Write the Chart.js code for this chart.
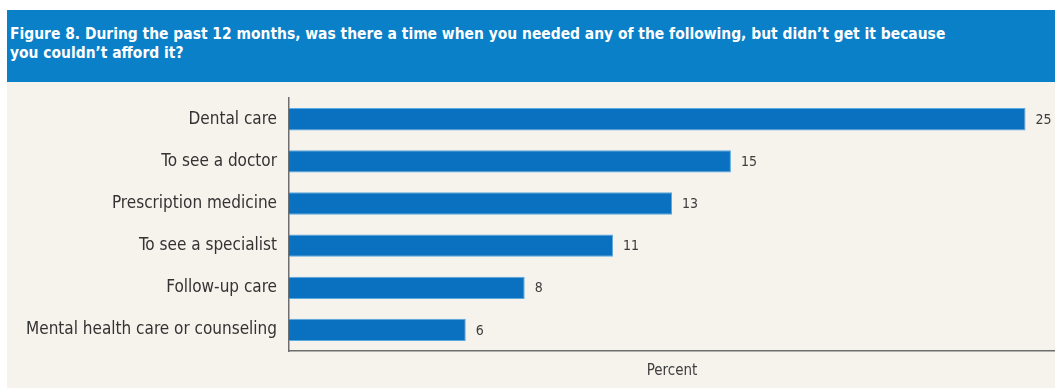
<!DOCTYPE html>
<html>
<head>
<meta charset="utf-8">
<script src="https://cdn.jsdelivr.net/npm/chart.js@4"></script>
<style>
  html, body { margin: 0; padding: 0; background: #ffffff; }
  #wrap { position: absolute; left: 7px; top: 10px; width: 1048px; height: 378px; background: #f6f3ed; }
  #header {
    height: 72px; background: #0a80c8; color: #ffffff;
    font-family: "DejaVu Sans Condensed", "Liberation Sans Narrow", sans-serif;
    font-weight: bold; font-size: 16.5px; line-height: 19px;
    padding: 14px 0 0 3px; box-sizing: border-box; white-space: nowrap;
  }
  #header span { display: inline-block; transform: scaleX(0.935); transform-origin: left top; }
  #box { position: absolute; left: 0; top: 66px; width: 1048px; height: 308px; }
</style>
</head>
<body>
<div id="wrap">
  <div id="header"><span>Figure 8. During the past 12 months, was there a time when you needed any of the following, but didn’t get it because<br>you couldn’t afford it?</span></div>
  <div id="box"><canvas id="careChart"></canvas></div>
</div>
<script>
const careLabels = ['Dental care', 'To see a doctor', 'Prescription medicine', 'To see a specialist', 'Follow-up care', 'Mental health care or counseling'];
const careValues = [25, 15, 13, 11, 8, 6];

const narrow = '"DejaVu Sans Condensed", "Liberation Sans Narrow", sans-serif';

// writes the percent next to the end of each bar
const valueLabels = {
  id: 'valueLabels',
  afterDatasetsDraw(chart) {
    const ctx = chart.ctx;
    const meta = chart.getDatasetMeta(0);
    ctx.save();
    ctx.fillStyle = '#3d3d3d';
    ctx.font = '14px ' + narrow;
    ctx.textBaseline = 'middle';
    meta.data.forEach((bar, i) => {
      ctx.fillText(careValues[i], bar.x + 10, bar.y + 1);
    });
    ctx.restore();
  }
};

new Chart(document.getElementById('careChart'), {
  type: 'bar',
  data: {
    labels: careLabels,
    datasets: [{
      data: careValues,
      backgroundColor: '#0a70c0',
      borderColor: '#5aa9e0',
      borderWidth: { top: 1, bottom: 1, left: 0, right: 1 },
      borderSkipped: false,
      barPercentage: 0.53,
      categoryPercentage: 1
    }]
  },
  options: {
    indexAxis: 'y',
    responsive: true,
    maintainAspectRatio: false,
    animation: false,
    layout: { padding: { top: 3, right: 0, bottom: 0, left: 0 } },
    scales: {
      x: {
        min: 0,
        max: 26,
        grid: { display: false, drawTicks: false },
        border: { color: '#6e6e6e', width: 1.5 },
        ticks: { display: false },
        title: {
          display: true,
          text: 'Percent',
          color: '#3d3d3d',
          font: { family: narrow, size: 15 },
          padding: { top: 11, bottom: 4 }
        }
      },
      y: {
        grid: { display: false, drawTicks: false },
        border: { color: '#6e6e6e', width: 1.5 },
        afterFit(scale) { scale.width = 282; },
        ticks: {
          color: '#333333',
          padding: 12,
          font: { family: narrow, size: 17 }
        }
      }
    },
    plugins: {
      legend: { display: false },
      tooltip: { enabled: false }
    }
  },
  plugins: [valueLabels]
});
</script>
</body>
</html>
